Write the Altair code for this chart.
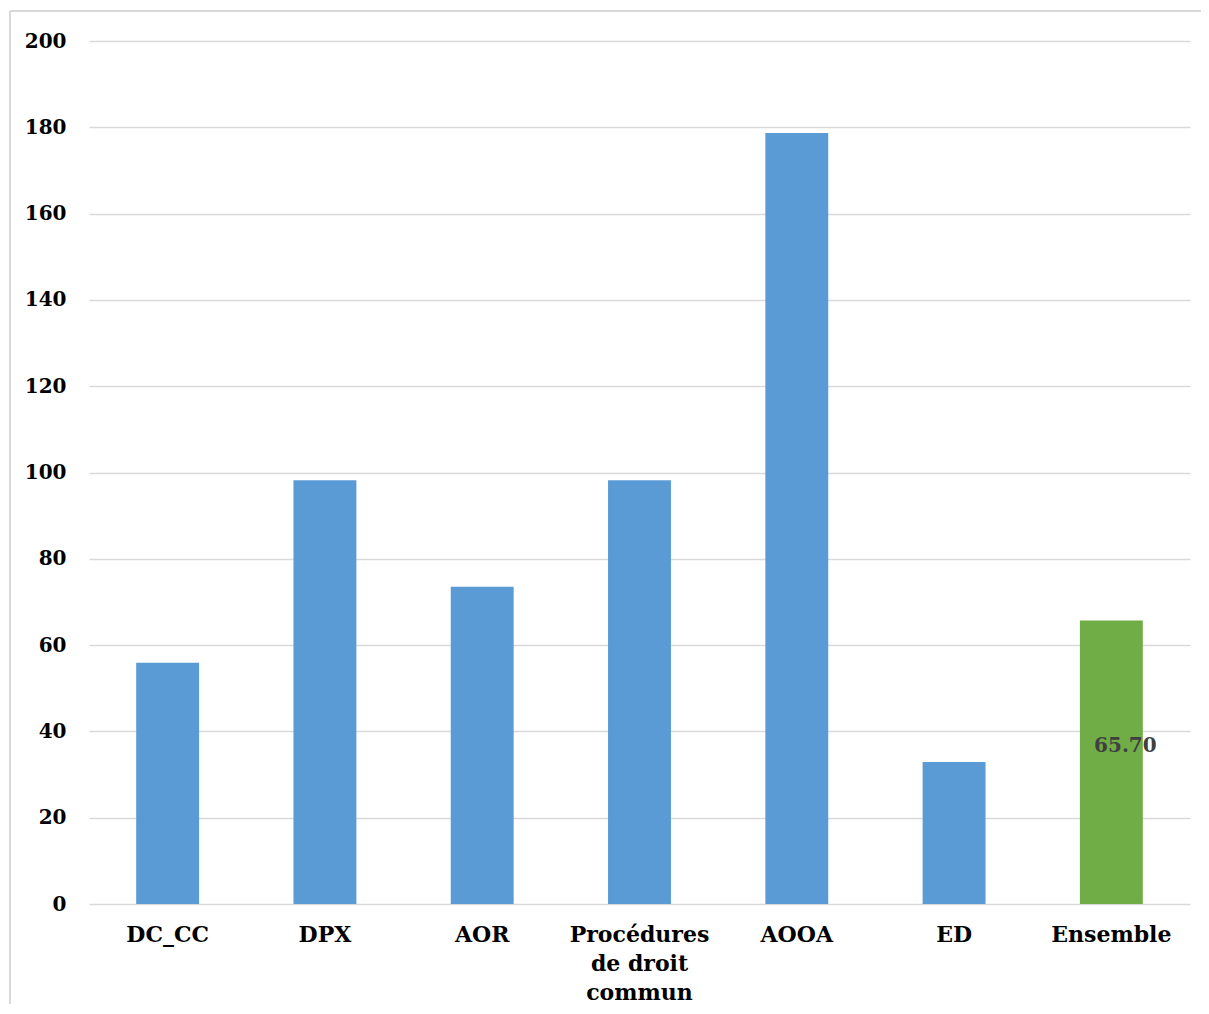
import altair as alt
import pandas as pd

categories = ["DC_CC", "DPX", "AOR", "Procédures de droit commun", "AOOA", "ED", "Ensemble"]
values = [55.9, 98.2, 73.5, 98.2, 178.7, 32.9, 65.70]
groups = ["detail", "detail", "detail", "detail", "detail", "detail", "total"]
label_text = ["", "", "", "", "", "", "65.70"]
y_ticks = [0, 20, 40, 60, 80, 100, 120, 140, 160, 180, 200]

df = pd.DataFrame({"cat": categories, "val": values, "grp": groups, "lab": label_text})

FONT = "DejaVu Serif"

x_axis = alt.Axis(
    labelAngle=0,
    labelFont=FONT,
    labelFontSize=22,
    labelFontWeight="bold",
    labelColor="#000000",
    labelPadding=20,
    labelLineHeight=29,
    labelExpr="datum.label == 'Procédures de droit commun' ? ['Procédures', 'de droit', 'commun'] : datum.label",
    domain=False,
    ticks=False,
    grid=False,
)
y_axis = alt.Axis(
    values=y_ticks,
    labelFont=FONT,
    labelFontSize=20,
    labelFontWeight="bold",
    labelColor="#000000",
    labelPadding=23,
    domain=False,
    ticks=False,
    grid=True,
    gridColor="#d9d9d9",
    gridWidth=1.5,
)

x_scale = alt.Scale(paddingInner=0.6, paddingOuter=0.3)
y_scale = alt.Scale(domain=[0, 200], nice=False)

bars = alt.Chart(df).mark_bar().encode(
    x=alt.X("cat:N", sort=categories, title=None, scale=x_scale, axis=x_axis),
    y=alt.Y("val:Q", title=None, scale=y_scale, axis=y_axis),
    color=alt.Color(
        "grp:N",
        scale=alt.Scale(domain=["detail", "total"], range=["#5B9BD5", "#70AD47"]),
        legend=None,
    ),
)

text = alt.Chart(df).transform_filter("datum.lab != ''").transform_calculate(
    mid="datum.val / 2"
).mark_text(
    font=FONT, fontSize=20, fontWeight="bold", color="#404040", dx=14, dy=-16
).encode(
    x=alt.X("cat:N", sort=categories, title=None, scale=x_scale, axis=x_axis),
    y=alt.Y("mid:Q", title=None, scale=y_scale, axis=y_axis),
    text="lab:N",
)

frame_df = pd.DataFrame({"k": [0]})
top_edge = alt.Chart(frame_df).mark_rule(color="#d9d9d9", strokeWidth=2).encode(
    x=alt.value(-79), x2=alt.value(1112), y=alt.value(-30)
)
left_edge = alt.Chart(frame_df).mark_rule(color="#d9d9d9", strokeWidth=2).encode(
    x=alt.value(-79), y=alt.value(-30), y2=alt.value(980)
)

chart = alt.layer(top_edge, left_edge, bars, text).properties(
    width=1101,
    height=863,
    background="#ffffff",
    autosize=alt.AutoSizeParams(type="none"),
    padding={"left": 81, "top": 33, "right": 11, "bottom": 100},
).configure_view(strokeWidth=0, stroke="transparent")

chart.save("out.html", embed_options={"renderer": "svg", "actions": False})
